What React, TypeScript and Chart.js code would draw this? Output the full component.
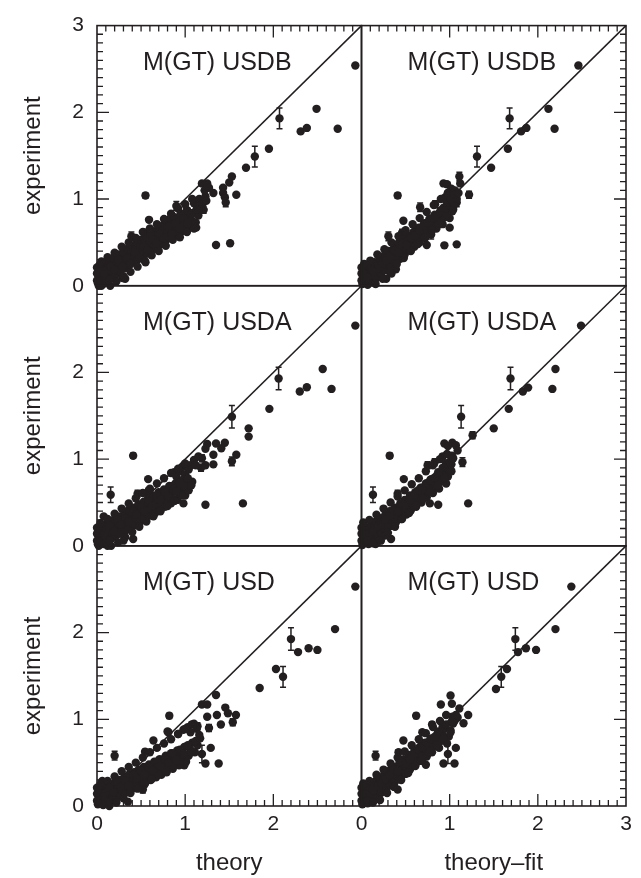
import React, { useEffect, useRef } from 'react';
import { Chart, registerables } from 'chart.js';

Chart.register(...registerables);

type P = [number, number];
type E = [number, number, number];

const INK = '#231f20';
const FONT = '"Liberation Sans", Arial, Helvetica, sans-serif';

const rowLabels = ['M(GT) USDB', 'M(GT) USDA', 'M(GT) USD'];
const xTitles = ['theory', 'theory\u2013fit'];
const yTitle = 'experiment';
const tickValues = [0, 1, 2, 3];

// ---------- USDB vs theory ----------
const usdbTheory: P[] = [
  [2.93, 2.54], [2.31, 1.78], [2.38, 1.82], [2.49, 2.04], [2.73, 1.81], [1.95, 1.58], [1.69, 1.36],
  [1.53, 1.26], [1.50, 1.19], [1.43, 1.13], [1.43, 1.07], [1.45, 1.02], [1.58, 1.05], [1.35, 0.47],
  [1.51, 0.49], [0.59, 0.76], [1.19, 1.18], [1.25, 1.18], [1.32, 1.07], [1.125, 0.67], [0.32, 0.08],
  [1.23, 1.03], [1.19, 0.95], [1.09, 0.84], [1.02, 0.87], [1.10, 0.95], [1.16, 1.00], [1.22, 1.10], [1.27, 1.13],
  [0.01, 0.03], [0.02, 0.10], [0.03, 0.17], [0.04, 0.06], [0.05, 0.13], [0.06, 0.21], [0.07, 0.02], [0.08, 0.09],
  [0.09, 0.17], [0.10, 0.25], [0.02, 0.00], [0.05, 0.00], [0.11, 0.05], [0.12, 0.13], [0.13, 0.21], [0.14, 0.28],
  [0.16, 0.09], [0.17, 0.17], [0.18, 0.25], [0.19, 0.32], [0.21, 0.12], [0.22, 0.20], [0.23, 0.28], [0.25, 0.36],
  [0.26, 0.16], [0.27, 0.24], [0.28, 0.31], [0.29, 0.09], [0.30, 0.39], [0.31, 0.20], [0.32, 0.28], [0.33, 0.35],
  [0.35, 0.43], [0.36, 0.23], [0.37, 0.31], [0.39, 0.39], [0.40, 0.46], [0.41, 0.27], [0.42, 0.35], [0.44, 0.42],
  [0.45, 0.50], [0.46, 0.30], [0.47, 0.38], [0.49, 0.45], [0.50, 0.53], [0.51, 0.34], [0.52, 0.41], [0.54, 0.49],
  [0.55, 0.27], [0.56, 0.56], [0.57, 0.37], [0.58, 0.45], [0.60, 0.52], [0.61, 0.60], [0.62, 0.41], [0.64, 0.48],
  [0.65, 0.56], [0.66, 0.63], [0.68, 0.44], [0.69, 0.52], [0.70, 0.60], [0.71, 0.68], [0.73, 0.48], [0.74, 0.56],
  [0.75, 0.64], [0.77, 0.71], [0.78, 0.52], [0.79, 0.60], [0.80, 0.67], [0.82, 0.75], [0.83, 0.55], [0.85, 0.63],
  [0.86, 0.71], [0.88, 0.79], [0.90, 0.59], [0.91, 0.67], [0.93, 0.75], [0.95, 0.83], [0.97, 0.63], [0.99, 0.71],
  [1.01, 0.79], [1.02, 0.87], [1.05, 0.68], [1.07, 0.76], [1.09, 0.84], [1.12, 0.73], [1.15, 0.81], [1.18, 0.88],
];
const usdbTheoryEdge: P[] = [
  [0.00, 0.06], [0.00, 0.14], [0.00, 0.21], [0.03, 0.24], [0.05, 0.28], [0.12, 0.33], [0.20, 0.38], [0.28, 0.45],
  [0.36, 0.50], [0.44, 0.55], [0.52, 0.62], [0.60, 0.66], [0.68, 0.71], [0.76, 0.77], [0.84, 0.83], [0.92, 0.89],
  [1.00, 0.94], [1.08, 1.00], [0.15, 0.00], [0.22, 0.05], [0.30, 0.11], [0.38, 0.16], [0.46, 0.22], [0.54, 0.29],
  [0.62, 0.35], [0.70, 0.40], [0.78, 0.46], [0.86, 0.53], [0.94, 0.56], [1.02, 0.62], [1.10, 0.66],
  [0.04, 0.19], [0.11, 0.18], [0.15, 0.22], [0.20, 0.18], [0.24, 0.30], [0.29, 0.22], [0.34, 0.32], [0.38, 0.25],
  [0.43, 0.38], [0.48, 0.33], [0.53, 0.45], [0.57, 0.41], [0.63, 0.53], [0.67, 0.49], [0.72, 0.60], [0.76, 0.55],
  [0.81, 0.68], [0.85, 0.60], [0.89, 0.72], [0.94, 0.66], [0.98, 0.78], [1.03, 0.72], [1.07, 0.83], [1.13, 0.88],
  [1.20, 0.95], [1.24, 0.98], [0.08, 0.13], [0.14, 0.07],
];
const usdbTheoryErr: E[] = [
  [2.07, 1.93, 0.12], [1.79, 1.49, 0.12], [1.46, 0.96, 0.05], [0.55, 1.04, 0.03], [0.90, 0.92, 0.05],
  [1.14, 0.91, 0.04], [1.21, 0.875, 0.04], [0.39, 0.57, 0.05], [0.55, 0.61, 0.04],
];

// ---------- USDB vs theory-fit ----------
const usdbFit: P[] = [
  [2.46, 2.54], [1.81, 1.78], [1.87, 1.82], [2.12, 2.04], [2.19, 1.81], [1.66, 1.58], [1.47, 1.36],
  [1.12, 1.18], [0.475, 0.75], [1.00, 0.67], [0.94, 0.466], [1.08, 0.477], [0.74, 0.47],
  [0.93, 1.18], [0.97, 1.17], [1.02, 1.12], [1.06, 1.10], [0.98, 1.07], [1.03, 1.04], [0.95, 1.02],
  [0.39, 0.19], [0.28, 0.08], [0.34, 0.14],
  [0.01, 0.02], [0.02, 0.09], [0.03, 0.16], [0.04, 0.04], [0.05, 0.11], [0.06, 0.19], [0.07, 0.01], [0.08, 0.07],
  [0.09, 0.15], [0.10, 0.22], [0.12, 0.05], [0.13, 0.12], [0.14, 0.20], [0.15, 0.27], [0.17, 0.09], [0.18, 0.17],
  [0.19, 0.24], [0.21, 0.31], [0.22, 0.13], [0.23, 0.21], [0.25, 0.28], [0.26, 0.35], [0.27, 0.18], [0.29, 0.25],
  [0.30, 0.33], [0.31, 0.40], [0.33, 0.22], [0.34, 0.30], [0.35, 0.37], [0.37, 0.44], [0.38, 0.27], [0.39, 0.34],
  [0.41, 0.42], [0.42, 0.49], [0.44, 0.31], [0.45, 0.39], [0.46, 0.46], [0.48, 0.53], [0.49, 0.36], [0.51, 0.43],
  [0.52, 0.51], [0.53, 0.58], [0.55, 0.41], [0.56, 0.48], [0.58, 0.55], [0.59, 0.62], [0.60, 0.45], [0.62, 0.53],
  [0.63, 0.60], [0.65, 0.67], [0.66, 0.50], [0.68, 0.57], [0.69, 0.65], [0.71, 0.72], [0.72, 0.55], [0.74, 0.62],
  [0.75, 0.70], [0.77, 0.77], [0.78, 0.60], [0.80, 0.67], [0.81, 0.75], [0.83, 0.82], [0.85, 0.66], [0.86, 0.73],
  [0.88, 0.80], [0.90, 0.87], [0.92, 0.71], [0.94, 0.79], [0.96, 0.86], [0.98, 0.93], [1.00, 0.78], [1.03, 0.86],
  [1.05, 0.93], [1.08, 1.00],
];
const usdbFitEdge: P[] = [
  [0.00, 0.06], [0.00, 0.14], [0.00, 0.21], [0.03, 0.25], [0.10, 0.29], [0.18, 0.36], [0.26, 0.42], [0.34, 0.50],
  [0.42, 0.57], [0.50, 0.64], [0.58, 0.71], [0.66, 0.78], [0.74, 0.85], [0.82, 0.93], [0.90, 1.00], [0.98, 1.07],
  [0.16, 0.02], [0.24, 0.08], [0.32, 0.16], [0.40, 0.25], [0.48, 0.32], [0.56, 0.40], [0.64, 0.48], [0.72, 0.56],
  [0.80, 0.64], [0.88, 0.72], [0.96, 0.80], [1.04, 0.88],
  [0.04, 0.13], [0.10, 0.12], [0.14, 0.16], [0.19, 0.20], [0.24, 0.26], [0.28, 0.29], [0.33, 0.34], [0.37, 0.40],
  [0.42, 0.38], [0.47, 0.49], [0.51, 0.47], [0.56, 0.55], [0.61, 0.58], [0.66, 0.64], [0.70, 0.69], [0.75, 0.73],
  [0.80, 0.78], [0.84, 0.80], [0.89, 0.85], [0.93, 0.90], [0.97, 0.96], [1.01, 0.99], [1.05, 1.05], [1.10, 1.07],
  [0.07, 0.10], [0.12, 0.18],
];
const usdbFitErr: E[] = [
  [1.68, 1.93, 0.12], [1.31, 1.49, 0.12], [1.11, 1.26, 0.05], [1.22, 1.05, 0.04], [0.41, 1.04, 0.03],
  [0.665, 0.905, 0.05], [0.835, 0.94, 0.04], [1.08, 0.96, 0.05], [0.305, 0.57, 0.05], [0.46, 0.61, 0.04],
  [0.79, 0.59, 0.05],
];

// ---------- USDA vs theory ----------
const usdaTheory: P[] = [
  [2.93, 2.54], [2.30, 1.78], [2.38, 1.83], [2.56, 2.04], [2.66, 1.81], [1.955, 1.58], [1.72, 1.355],
  [1.72, 1.26], [1.25, 1.175], [1.35, 1.18], [1.45, 1.19], [1.41, 1.125], [1.32, 1.05], [1.23, 1.12],
  [1.58, 1.05], [1.32, 0.94], [1.23, 0.93], [0.58, 0.77], [0.98, 0.49], [1.23, 0.475], [1.655, 0.49],
  [0.875, 0.85], [0.98, 0.92], [1.06, 0.93], [0.98, 0.645], [1.08, 0.74], [0.076, 0.34],
  [0.90, 0.80], [0.95, 0.86], [1.00, 0.82], [1.04, 0.88], [1.10, 0.99], [1.15, 1.03], [1.12, 0.93],
  [0.02, 0.00], [0.12, 0.00], [0.30, 0.06], [0.41, 0.08],
  [0.01, 0.02], [0.02, 0.09], [0.03, 0.15], [0.04, 0.05], [0.05, 0.12], [0.06, 0.20], [0.07, 0.02], [0.08, 0.08],
  [0.09, 0.16], [0.10, 0.24], [0.11, 0.04], [0.12, 0.12], [0.13, 0.19], [0.15, 0.27], [0.16, 0.08], [0.17, 0.15],
  [0.18, 0.23], [0.20, 0.31], [0.21, 0.11], [0.22, 0.19], [0.24, 0.27], [0.25, 0.34], [0.26, 0.14], [0.28, 0.22],
  [0.29, 0.30], [0.31, 0.38], [0.32, 0.17], [0.33, 0.25], [0.35, 0.33], [0.36, 0.41], [0.37, 0.21], [0.39, 0.29],
  [0.40, 0.36], [0.42, 0.44], [0.43, 0.24], [0.44, 0.32], [0.46, 0.40], [0.47, 0.48], [0.49, 0.28], [0.50, 0.36],
  [0.51, 0.43], [0.53, 0.51], [0.54, 0.31], [0.56, 0.39], [0.57, 0.47], [0.58, 0.55], [0.60, 0.35], [0.61, 0.43],
  [0.63, 0.50], [0.64, 0.58], [0.66, 0.38], [0.67, 0.46], [0.68, 0.54], [0.70, 0.62], [0.71, 0.42], [0.73, 0.50],
  [0.74, 0.57], [0.76, 0.65], [0.77, 0.45], [0.79, 0.53], [0.80, 0.61], [0.82, 0.69], [0.84, 0.49], [0.85, 0.57],
  [0.87, 0.64], [0.89, 0.72], [0.91, 0.53], [0.93, 0.61], [0.95, 0.68], [0.97, 0.76], [1.00, 0.58], [1.02, 0.65],
  [1.05, 0.73],
];
const usdaTheoryEdge: P[] = [
  [0.00, 0.06], [0.00, 0.14], [0.00, 0.21], [0.04, 0.26], [0.12, 0.31], [0.20, 0.37], [0.28, 0.43], [0.36, 0.49],
  [0.44, 0.55], [0.52, 0.61], [0.60, 0.66], [0.68, 0.72], [0.76, 0.78], [0.84, 0.84], [0.92, 0.89], [1.00, 0.95],
  [0.16, 0.00], [0.24, 0.04], [0.32, 0.10], [0.40, 0.16], [0.48, 0.22], [0.56, 0.28], [0.64, 0.34], [0.72, 0.40],
  [0.80, 0.46], [0.88, 0.52], [0.96, 0.58], [1.04, 0.64],
  [0.04, 0.19], [0.10, 0.18], [0.14, 0.23], [0.19, 0.17], [0.23, 0.30], [0.27, 0.25], [0.32, 0.32], [0.36, 0.28],
  [0.41, 0.40], [0.45, 0.36], [0.50, 0.45], [0.54, 0.40], [0.59, 0.51], [0.63, 0.46], [0.68, 0.58], [0.72, 0.53],
  [0.77, 0.62], [0.81, 0.57], [0.86, 0.69], [0.90, 0.63], [0.94, 0.73], [0.99, 0.69], [1.03, 0.78], [1.07, 0.70],
  [0.08, 0.12], [0.14, 0.06],
];
const usdaTheoryErr: E[] = [
  [2.06, 1.93, 0.13], [1.53, 1.49, 0.13], [1.53, 0.975, 0.05], [1.19, 1.01, 0.04], [1.18, 0.90, 0.04],
  [0.41, 1.04, 0.03], [0.155, 0.59, 0.09], [0.46, 0.60, 0.04], [0.58, 0.625, 0.04], [0.875, 0.52, 0.03],
];

// ---------- USDA vs theory-fit ----------
const usdaFit: P[] = [
  [2.49, 2.54], [1.83, 1.78], [1.89, 1.825], [2.20, 2.04], [2.165, 1.81], [1.67, 1.58], [1.50, 1.355],
  [0.94, 1.18], [0.98, 1.15], [1.03, 1.19], [1.07, 1.16], [1.09, 1.10], [1.025, 1.04], [1.01, 0.87],
  [0.48, 0.77], [0.775, 0.49], [0.87, 0.475], [1.21, 0.49], [0.335, 0.08],
  [0.01, 0.01], [0.02, 0.08], [0.03, 0.15], [0.04, 0.22], [0.05, 0.04], [0.06, 0.11], [0.07, 0.18], [0.08, 0.02],
  [0.09, 0.09], [0.10, 0.16], [0.11, 0.24], [0.12, 0.06], [0.14, 0.13], [0.15, 0.21], [0.16, 0.28], [0.18, 0.10],
  [0.19, 0.18], [0.20, 0.25], [0.22, 0.32], [0.23, 0.14], [0.24, 0.22], [0.26, 0.29], [0.27, 0.36], [0.28, 0.18],
  [0.30, 0.26], [0.31, 0.33], [0.32, 0.40], [0.34, 0.23], [0.35, 0.30], [0.37, 0.37], [0.38, 0.44], [0.39, 0.27],
  [0.41, 0.34], [0.42, 0.42], [0.44, 0.49], [0.45, 0.31], [0.46, 0.39], [0.48, 0.46], [0.49, 0.53], [0.51, 0.36],
  [0.52, 0.43], [0.54, 0.51], [0.55, 0.58], [0.56, 0.41], [0.58, 0.48], [0.59, 0.55], [0.61, 0.62], [0.62, 0.45],
  [0.64, 0.53], [0.65, 0.60], [0.67, 0.67], [0.68, 0.50], [0.70, 0.58], [0.71, 0.65], [0.73, 0.72], [0.74, 0.56],
  [0.76, 0.63], [0.78, 0.70], [0.79, 0.77], [0.81, 0.61], [0.83, 0.68], [0.84, 0.75], [0.86, 0.82], [0.88, 0.66],
  [0.90, 0.74], [0.92, 0.81], [0.94, 0.88], [0.96, 0.72], [0.98, 0.80], [1.00, 0.87], [1.02, 0.94], [0.20, 0.06],
  [0.16, 0.02], [0.27, 0.12],
];
const usdaFitEdge: P[] = [
  [0.00, 0.06], [0.00, 0.14], [0.00, 0.21], [0.02, 0.27], [0.09, 0.30], [0.17, 0.36], [0.25, 0.43], [0.33, 0.50],
  [0.41, 0.57], [0.49, 0.64], [0.57, 0.71], [0.65, 0.78], [0.73, 0.86], [0.81, 0.93], [0.89, 1.00], [0.97, 1.06],
  [0.22, 0.06], [0.30, 0.15], [0.38, 0.22], [0.46, 0.31], [0.54, 0.38], [0.62, 0.47], [0.70, 0.54], [0.78, 0.62],
  [0.86, 0.70], [0.94, 0.78], [1.02, 0.86],
  [0.04, 0.13], [0.09, 0.13], [0.13, 0.17], [0.18, 0.22], [0.23, 0.25], [0.27, 0.30], [0.32, 0.35], [0.36, 0.41],
  [0.41, 0.39], [0.46, 0.49], [0.50, 0.48], [0.55, 0.53], [0.60, 0.59], [0.64, 0.64], [0.69, 0.67], [0.74, 0.72],
  [0.78, 0.76], [0.83, 0.79], [0.87, 0.85], [0.92, 0.90], [0.96, 0.95], [1.00, 0.97], [1.04, 1.01], [0.07, 0.06],
  [0.13, 0.03],
];
const usdaFitErr: E[] = [
  [1.69, 1.93, 0.13], [1.13, 1.49, 0.13], [1.26, 1.275, 0.04], [1.145, 0.965, 0.05], [0.32, 1.04, 0.03],
  [0.75, 0.93, 0.04], [0.83, 0.965, 0.04], [0.92, 1.03, 0.03], [0.13, 0.59, 0.09], [0.41, 0.60, 0.04],
  [0.80, 0.68, 0.04],
];

// ---------- USD vs theory ----------
const usdTheory: P[] = [
  [2.93, 2.53], [2.70, 2.04], [2.28, 1.775], [2.40, 1.82], [2.50, 1.80], [2.03, 1.58], [1.845, 1.36],
  [1.35, 1.28], [1.19, 1.17], [1.25, 1.17], [1.455, 1.135], [1.485, 1.07], [1.576, 1.05], [1.405, 0.94],
  [1.36, 1.05], [1.25, 1.03], [1.29, 0.67], [1.23, 0.49], [1.38, 0.49], [0.99, 0.47], [0.81, 0.85], [0.64, 0.755],
  [0.92, 0.83], [0.98, 0.88], [1.03, 0.91], [1.06, 0.85], [1.10, 0.95], [1.13, 0.89],
  [0.01, 0.02], [0.02, 0.09], [0.03, 0.15], [0.04, 0.04], [0.05, 0.11], [0.06, 0.18], [0.07, 0.01], [0.08, 0.07],
  [0.09, 0.14], [0.10, 0.21], [0.11, 0.04], [0.13, 0.10], [0.14, 0.17], [0.15, 0.24], [0.16, 0.06], [0.18, 0.13],
  [0.19, 0.20], [0.20, 0.27], [0.22, 0.09], [0.23, 0.16], [0.24, 0.23], [0.26, 0.30], [0.27, 0.12], [0.28, 0.19],
  [0.30, 0.26], [0.31, 0.33], [0.32, 0.15], [0.34, 0.22], [0.35, 0.29], [0.36, 0.36], [0.38, 0.18], [0.39, 0.25],
  [0.41, 0.32], [0.42, 0.39], [0.43, 0.21], [0.45, 0.28], [0.46, 0.35], [0.48, 0.42], [0.49, 0.24], [0.50, 0.31],
  [0.52, 0.38], [0.53, 0.45], [0.55, 0.27], [0.56, 0.34], [0.58, 0.41], [0.59, 0.48], [0.61, 0.30], [0.62, 0.37],
  [0.64, 0.44], [0.65, 0.51], [0.67, 0.33], [0.68, 0.40], [0.70, 0.47], [0.71, 0.54], [0.73, 0.36], [0.74, 0.43],
  [0.76, 0.50], [0.78, 0.58], [0.79, 0.39], [0.81, 0.46], [0.83, 0.53], [0.84, 0.61], [0.86, 0.43], [0.88, 0.50],
  [0.90, 0.57], [0.91, 0.64], [0.93, 0.47], [0.95, 0.54], [0.97, 0.61], [0.99, 0.68], [1.01, 0.51], [1.04, 0.58],
  [1.06, 0.65], [1.08, 0.73], [1.11, 0.62], [1.14, 0.70], [1.17, 0.78], [0.06, 0.29], [0.35, 0.05], [0.80, 0.86],
];
const usdTheoryEdge: P[] = [
  [0.00, 0.06], [0.00, 0.14], [0.00, 0.21], [0.04, 0.25], [0.12, 0.29], [0.20, 0.34], [0.28, 0.40], [0.36, 0.45],
  [0.44, 0.50], [0.52, 0.56], [0.60, 0.62], [0.68, 0.67], [0.76, 0.72], [0.84, 0.77], [0.92, 0.83], [1.00, 0.89],
  [0.14, 0.00], [0.22, 0.04], [0.30, 0.09], [0.38, 0.15], [0.46, 0.20], [0.54, 0.25], [0.62, 0.31], [0.70, 0.37],
  [0.78, 0.42], [0.86, 0.47], [0.94, 0.53], [1.02, 0.58],
  [0.04, 0.18], [0.10, 0.16], [0.14, 0.21], [0.19, 0.16], [0.23, 0.28], [0.27, 0.22], [0.32, 0.29], [0.36, 0.24],
  [0.41, 0.36], [0.45, 0.32], [0.50, 0.41], [0.54, 0.36], [0.59, 0.45], [0.63, 0.41], [0.68, 0.51], [0.72, 0.46],
  [0.77, 0.55], [0.81, 0.50], [0.86, 0.61], [0.90, 0.53], [0.94, 0.65], [0.99, 0.60], [1.03, 0.70], [1.07, 0.62],
  [1.12, 0.75], [1.16, 0.82], [0.08, 0.11], [0.13, 0.05],
];
const usdTheoryErr: E[] = [
  [2.20, 1.925, 0.13], [2.11, 1.49, 0.12], [1.54, 0.966, 0.04], [1.27, 0.90, 0.04], [1.14, 0.92, 0.04],
  [1.075, 0.94, 0.03], [0.82, 1.04, 0.03], [0.20, 0.58, 0.05], [1.19, 0.60, 0.10], [0.52, 0.19, 0.04],
  [0.545, 0.625, 0.03],
];

// ---------- USD vs theory-fit ----------
const usdFit: P[] = [
  [2.38, 2.53], [2.20, 2.04], [1.775, 1.775], [1.865, 1.82], [1.98, 1.80], [1.65, 1.58], [1.525, 1.35],
  [1.01, 1.275], [0.90, 1.17], [1.025, 1.18], [1.11, 1.125], [1.21, 1.05], [1.157, 0.955], [0.96, 1.05],
  [1.07, 0.67], [0.93, 0.49], [1.055, 0.49], [0.73, 0.475], [0.475, 0.755], [0.69, 0.85], [0.41, 0.19],
  [0.01, 0.02], [0.02, 0.10], [0.03, 0.17], [0.04, 0.05], [0.05, 0.13], [0.06, 0.21], [0.07, 0.03], [0.08, 0.10],
  [0.09, 0.18], [0.11, 0.25], [0.12, 0.07], [0.13, 0.14], [0.14, 0.22], [0.16, 0.29], [0.17, 0.11], [0.18, 0.18],
  [0.20, 0.26], [0.21, 0.33], [0.22, 0.15], [0.24, 0.22], [0.25, 0.30], [0.26, 0.37], [0.28, 0.19], [0.29, 0.27],
  [0.30, 0.34], [0.32, 0.41], [0.33, 0.24], [0.34, 0.31], [0.36, 0.38], [0.37, 0.45], [0.38, 0.28], [0.40, 0.35],
  [0.41, 0.43], [0.43, 0.50], [0.44, 0.33], [0.45, 0.40], [0.47, 0.47], [0.48, 0.54], [0.50, 0.37], [0.51, 0.45],
  [0.53, 0.52], [0.54, 0.59], [0.55, 0.42], [0.57, 0.50], [0.58, 0.57], [0.60, 0.64], [0.61, 0.47], [0.63, 0.54],
  [0.64, 0.61], [0.66, 0.68], [0.67, 0.52], [0.69, 0.59], [0.70, 0.66], [0.72, 0.73], [0.74, 0.57], [0.75, 0.64],
  [0.77, 0.71], [0.79, 0.78], [0.80, 0.62], [0.82, 0.69], [0.84, 0.76], [0.86, 0.83], [0.88, 0.67], [0.90, 0.75],
  [0.92, 0.82], [0.94, 0.89], [0.97, 0.72], [0.99, 0.80], [1.01, 0.87], [1.04, 0.95], [1.06, 0.99], [1.09, 1.02],
];
const usdFitEdge: P[] = [
  [0.00, 0.06], [0.00, 0.14], [0.00, 0.21], [0.02, 0.26], [0.09, 0.29], [0.17, 0.36], [0.25, 0.42], [0.33, 0.49],
  [0.41, 0.56], [0.49, 0.63], [0.57, 0.70], [0.65, 0.77], [0.73, 0.84], [0.81, 0.91], [0.89, 0.98],
  [0.21, 0.07], [0.29, 0.15], [0.37, 0.22], [0.45, 0.30], [0.53, 0.38], [0.61, 0.46], [0.69, 0.54], [0.77, 0.62],
  [0.85, 0.70], [0.93, 0.78], [1.01, 0.85],
  [0.04, 0.14], [0.09, 0.14], [0.13, 0.18], [0.18, 0.23], [0.23, 0.26], [0.27, 0.31], [0.32, 0.36], [0.36, 0.42],
  [0.41, 0.40], [0.46, 0.50], [0.50, 0.49], [0.55, 0.54], [0.60, 0.60], [0.64, 0.65], [0.69, 0.68], [0.74, 0.73],
  [0.78, 0.77], [0.83, 0.80], [0.87, 0.86], [0.92, 0.91], [0.96, 0.94], [1.03, 0.98], [1.07, 1.05], [0.07, 0.06],
  [0.13, 0.04],
];
const usdFitErr: E[] = [
  [1.745, 1.925, 0.13], [1.585, 1.49, 0.12], [1.03, 1.03, 0.03], [0.62, 1.04, 0.03], [0.16, 0.58, 0.05],
  [0.98, 0.60, 0.11], [0.80, 0.94, 0.03], [0.42, 0.62, 0.03],
];

const panels = [
  { pts: usdbTheory.concat(usdbTheoryEdge), err: usdbTheoryErr, xId: 'xL', yId: 'yT', label: rowLabels[0] },
  { pts: usdbFit.concat(usdbFitEdge), err: usdbFitErr, xId: 'xR', yId: 'yT', label: rowLabels[0] },
  { pts: usdaTheory.concat(usdaTheoryEdge), err: usdaTheoryErr, xId: 'xL', yId: 'yM', label: rowLabels[1] },
  { pts: usdaFit.concat(usdaFitEdge), err: usdaFitErr, xId: 'xR', yId: 'yM', label: rowLabels[1] },
  { pts: usdTheory.concat(usdTheoryEdge), err: usdTheoryErr, xId: 'xL', yId: 'yB', label: rowLabels[2] },
  { pts: usdFit.concat(usdFitEdge), err: usdFitErr, xId: 'xR', yId: 'yB', label: rowLabels[2] },
];

const framePlugin = {
  id: 'panelFrames',
  afterDatasetsDraw(chart: any) {
    const ctx: CanvasRenderingContext2D = chart.ctx;
    const xs = [chart.scales.xL, chart.scales.xR];
    const ys = [chart.scales.yT, chart.scales.yM, chart.scales.yB].sort((a: any, b: any) => a.top - b.top);
    ctx.save();
    ctx.strokeStyle = INK;
    ctx.fillStyle = INK;

    // error bars
    ctx.lineWidth = 1.5;
    chart.data.datasets.forEach((ds: any, i: number) => {
      if (!ds.errorBars) return;
      const meta = chart.getDatasetMeta(i);
      const yS = chart.scales[ds.yAxisID];
      meta.data.forEach((el: any, j: number) => {
        const d = ds.data[j];
        const t = yS.getPixelForValue(d.y + d.e);
        const b = yS.getPixelForValue(d.y - d.e);
        ctx.beginPath();
        ctx.moveTo(el.x, t); ctx.lineTo(el.x, b);
        ctx.moveTo(el.x - 3, t); ctx.lineTo(el.x + 3, t);
        ctx.moveTo(el.x - 3, b); ctx.lineTo(el.x + 3, b);
        ctx.stroke();
      });
    });

    // frames
    ctx.lineWidth = 1.6;
    xs.forEach((x) => ys.forEach((y: any) => {
      ctx.strokeRect(x.left, y.top, x.right - x.left, y.bottom - y.top);
    }));

    // inward ticks (major every 1, minor every 0.1)
    ctx.lineWidth = 1.3;
    ctx.beginPath();
    for (let i = 1; i < 30; i++) {
      const v = i / 10;
      const len = i % 10 === 0 ? 12 : 6;
      ys.forEach((y: any) => {
        const py = y.getPixelForValue(v);
        ctx.moveTo(xs[0].left, py); ctx.lineTo(xs[0].left + len, py);
        ctx.moveTo(xs[1].right, py); ctx.lineTo(xs[1].right - len, py);
      });
      xs.forEach((x) => {
        const px = x.getPixelForValue(v);
        ctx.moveTo(px, ys[0].top); ctx.lineTo(px, ys[0].top + len);
        ctx.moveTo(px, ys[2].bottom); ctx.lineTo(px, ys[2].bottom - len);
      });
    }
    ctx.stroke();

    // panel labels
    ctx.font = `25px ${FONT}`;
    ctx.textAlign = 'left';
    ctx.textBaseline = 'alphabetic';
    panels.forEach((p) => {
      const x = chart.scales[p.xId];
      const y = chart.scales[p.yId];
      ctx.fillText(p.label, x.left + 46, y.top + 44);
    });
    ctx.restore();
  },
};

function xAxis(showLast: boolean, title: string) {
  return {
    type: 'linear',
    position: 'bottom',
    stack: 'xs',
    stackWeight: 1,
    min: 0,
    max: 3,
    grid: { display: false, drawTicks: false },
    border: { display: false },
    ticks: {
      stepSize: 1,
      autoSkip: false,
      maxRotation: 0,
      padding: 6,
      color: INK,
      font: { family: FONT, size: 21 },
      callback: (v: number) => (tickValues.includes(v) && (showLast || v !== 3) ? String(v) : ''),
    },
    title: {
      display: true,
      text: title,
      color: INK,
      font: { family: FONT, size: 24 },
      padding: { top: 0, bottom: 0 },
    },
    afterFit: (s: any) => { s.height = 72; },
  };
}

function yAxis(showLast: boolean) {
  return {
    type: 'linear',
    position: 'left',
    stack: 'ys',
    stackWeight: 1,
    min: 0,
    max: 3,
    grid: { display: false, drawTicks: false },
    border: { display: false },
    ticks: {
      stepSize: 1,
      autoSkip: false,
      padding: 13,
      color: INK,
      font: { family: FONT, size: 21 },
      callback: (v: number) => (tickValues.includes(v) && (showLast || v !== 3) ? String(v) : ''),
    },
    title: {
      display: true,
      text: yTitle,
      color: INK,
      font: { family: FONT, size: 24 },
      padding: { top: 19, bottom: 0 },
    },
    afterFit: (s: any) => { s.width = 97; },
  };
}

export default function App() {
  const ref = useRef<HTMLCanvasElement | null>(null);
  useEffect(() => {
    if (!ref.current) return;
    const datasets: any[] = [];
    panels.forEach((p) => {
      datasets.push({
        data: p.pts.map(([x, y]) => ({ x, y })),
        xAxisID: p.xId, yAxisID: p.yId,
        pointRadius: 4.2, pointBackgroundColor: INK, pointBorderWidth: 0, clip: false,
      });
      datasets.push({
        data: p.err.map(([x, y, e]) => ({ x, y, e })),
        xAxisID: p.xId, yAxisID: p.yId, errorBars: true,
        pointRadius: 4.2, pointBackgroundColor: INK, pointBorderWidth: 0, clip: false,
      });
      datasets.push({
        data: [{ x: 0, y: 0 }, { x: 3, y: 3 }],
        xAxisID: p.xId, yAxisID: p.yId,
        showLine: true, pointRadius: 0, borderColor: INK, borderWidth: 1.5, clip: false,
      });
    });
    const chart = new Chart(ref.current, {
      type: 'scatter',
      data: { datasets },
      options: {
        animation: false,
        responsive: false,
        devicePixelRatio: 1,
        layout: { padding: { top: 13, right: 15, left: 0, bottom: 0 } },
        plugins: { legend: { display: false }, tooltip: { enabled: false } },
        scales: {
          // stacked vertical axes are laid out bottom-up in definition order
          yB: yAxis(false),
          yM: yAxis(false),
          yT: yAxis(true),
          xL: xAxis(false, xTitles[0]),
          xR: xAxis(true, xTitles[1]),
        } as any,
      },
      plugins: [framePlugin],
    } as any);
    return () => chart.destroy();
  }, []);
  return (
    <div style={{ position: 'fixed', left: 0, top: 0, width: 641, height: 878, background: '#fff' }}>
      <canvas ref={ref} width={641} height={878} style={{ display: 'block' }} />
    </div>
  );
}
